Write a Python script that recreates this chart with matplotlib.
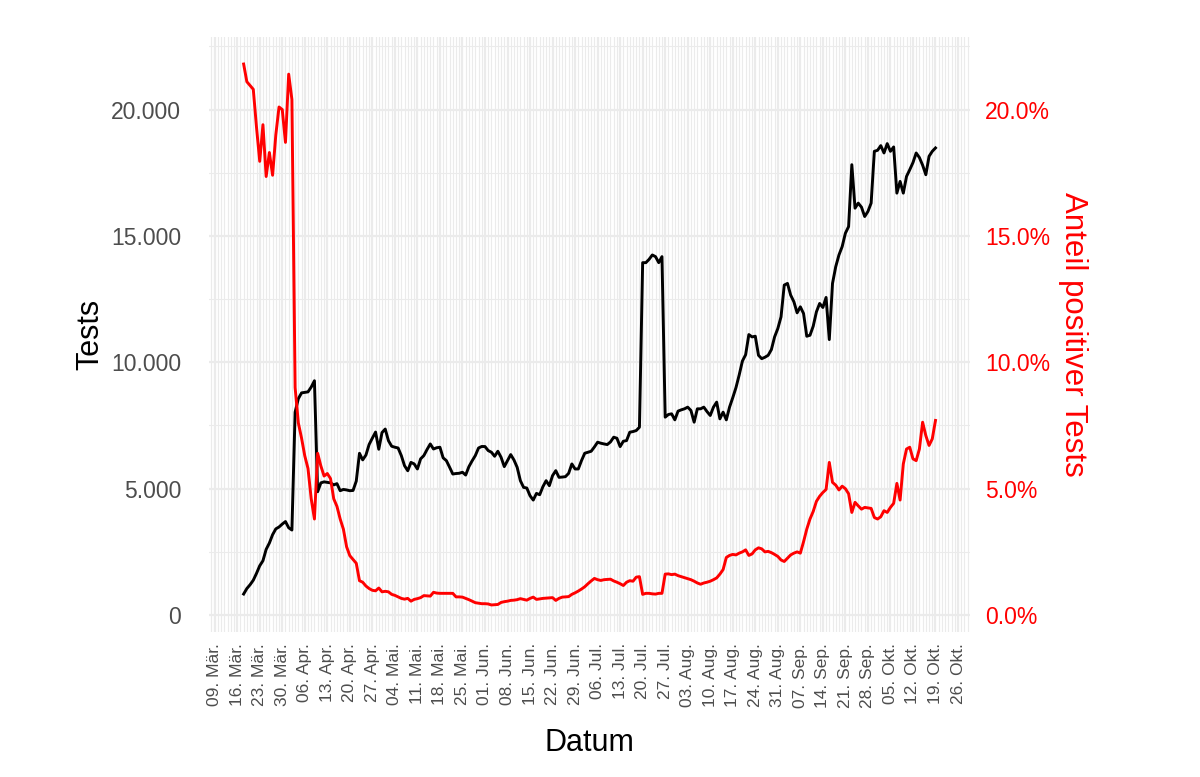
import numpy as np
import pandas as pd
import matplotlib
matplotlib.use("Agg")
import matplotlib.pyplot as plt
import matplotlib.dates as mdates
from matplotlib.ticker import FixedLocator, MultipleLocator, FuncFormatter

# Tägliche Werte ab 18.03.2020
start_date = "2020-03-18"

tests = [
    833, 1050, 1200, 1380, 1650, 1950, 2150, 2600, 2850, 3180, 3410, 3485, 3600, 3700, 3455, 3364,
    8030, 8560, 8790, 8810, 8830, 9020, 9270,
    4880, 5230, 5270, 5250, 5230, 5150, 5200, 4920, 4970, 4950, 4920, 4930, 5300,
    6400, 6140, 6330, 6750, 7000, 7240, 6560, 7220, 7360, 6900, 6680, 6640, 6610, 6310,
    5910, 5710, 6040, 5980, 5780, 6180, 6310, 6550, 6770, 6570, 6620, 6640, 6220, 6110, 5850,
    5580, 5600, 5610, 5650, 5540, 5870, 6100, 6310, 6610, 6670,
    6667, 6508, 6442, 6283, 6481, 6243, 5873, 6111, 6349, 6137, 5846, 5317, 5052, 5026, 4722,
    4550, 4814, 4761, 5079, 5317, 5119, 5516, 5714, 5449, 5460, 5476, 5608, 5979, 5780, 5780,
    6111, 6402, 6442, 6481, 6650, 6839, 6799, 6770, 6746, 6850, 7037,
    6996, 6665, 6877, 6903, 7234, 7260, 7300, 7432,
    13942, 13942, 14074, 14246, 14180, 13942, 14180,
    7829, 7935, 7962, 7724, 8068, 8120, 8160, 8226, 8094, 7631, 8160, 8160, 8226, 8050, 7896,
    8226, 8425, 7763, 8028, 7724, 8226, 8600, 9000, 9500, 10050, 10300,
    11097, 11005, 11031, 10277, 10144, 10200, 10277, 10502, 11005, 11335, 11798, 13055, 13121,
    12658, 12394, 11957, 12195, 11931, 11031, 11071, 11428, 11997, 12328, 12169, 12566, 10899,
    13121, 13783, 14246, 14577, 15106, 15370, 17818,
    16098, 16297, 16138, 15767, 15966, 16297, 18347, 18387, 18572, 18281, 18651, 18347, 18519,
    16693, 17156, 16693, 17354, 17619, 17900, 18281, 18100, 17800, 17421, 18149, 18347, 18480,
]

positive_pct = [
    21.8, 21.1, 20.95, 20.8, 19.3, 17.95, 19.4, 17.35, 18.3, 17.4, 19.0, 20.1, 20.0, 18.7, 21.4, 20.4,
    9.0, 7.6, 7.0, 6.3, 5.8, 4.6, 3.8, 6.4, 5.9, 5.5, 5.6, 5.4, 4.6, 4.3, 3.8, 3.4, 2.7, 2.35,
    2.2, 2.05, 1.36,
    1.30, 1.15, 1.05, 0.98, 0.96, 1.07, 0.92, 0.94, 0.92, 0.82, 0.78, 0.72, 0.66, 0.63, 0.66,
    0.55, 0.62, 0.65, 0.69, 0.77, 0.76, 0.75, 0.90, 0.87, 0.86, 0.86, 0.86, 0.86, 0.86, 0.72,
    0.72, 0.71, 0.66, 0.61, 0.55, 0.49, 0.47, 0.45, 0.45, 0.44,
    0.40, 0.41, 0.42, 0.50, 0.53, 0.55, 0.58, 0.59, 0.61, 0.65, 0.62, 0.59, 0.66, 0.71, 0.62,
    0.64, 0.66, 0.67, 0.68, 0.69, 0.58, 0.66, 0.71, 0.72, 0.73, 0.82, 0.88, 0.95, 1.03, 1.12,
    1.24, 1.35, 1.45, 1.40, 1.37, 1.40, 1.41, 1.42, 1.35,
    1.30, 1.24, 1.17, 1.30, 1.36, 1.34, 1.50, 1.52, 0.82, 0.86, 0.86, 0.84, 0.83, 0.86, 0.86,
    1.62, 1.63, 1.60, 1.62, 1.56, 1.52, 1.48, 1.44, 1.40, 1.34, 1.27, 1.22, 1.27, 1.30, 1.34,
    1.40, 1.47, 1.62, 1.80, 2.28, 2.36, 2.40, 2.38, 2.45, 2.50, 2.58, 2.36, 2.42, 2.58, 2.66,
    2.62, 2.50, 2.52, 2.47, 2.40, 2.32, 2.18, 2.12, 2.25, 2.38, 2.45, 2.50, 2.45,
    2.9, 3.4, 3.8, 4.1, 4.5, 4.7, 4.85, 4.97, 6.04, 5.25, 5.14, 4.95, 5.10, 5.0, 4.80, 4.06,
    4.46, 4.32, 4.19, 4.26, 4.24, 4.22,
    3.86, 3.80, 3.89, 4.13, 4.06, 4.26, 4.42, 5.21, 4.55, 5.98, 6.57, 6.64, 6.18, 6.11, 6.57,
    7.63, 7.10, 6.71, 6.97, 7.70,
]

month_abbr = ["Jan.", "Feb.", "Mär.", "Apr.", "Mai.", "Jun.", "Jul.", "Aug.", "Sep.", "Okt.", "Nov.", "Dez."]
tests_ticks = [0, 5000, 10000, 15000, 20000]
pct_ticks = [0, 5, 10, 15, 20]

dates = pd.date_range(start_date, periods=len(tests), freq="D")
tests = np.array(tests, dtype=float)
positive_pct = np.array(positive_pct, dtype=float)

plt.rcParams["font.family"] = ["Liberation Sans", "DejaVu Sans"]
grid_col = "#EBEBEB"
text_col = "#4D4D4D"

fig = plt.figure(figsize=(12, 7.77), dpi=100)
ax = fig.add_axes([0.1742, 0.1866, 0.6342, 0.7658])

# ggplot-artige Erweiterung um 5 %
x0, x1 = mdates.date2num(dates[0]), mdates.date2num(dates[-1])
xpad = 0.05 * (x1 - x0)
ax.set_xlim(x0 - xpad, x1 + xpad)
allv = np.concatenate([tests, positive_pct * 1000])
lo, hi = allv.min(), allv.max()
ypad = 0.05 * (hi - lo)
ax.set_ylim(lo - ypad, hi + ypad)

ax.plot(dates, tests, color="black", lw=2.1, solid_joinstyle="round")

ax2 = ax.twinx()
ax2.set_ylim((lo - ypad) / 1000, (hi + ypad) / 1000)
ax2.plot(dates, positive_pct, color="#FF0000", lw=2.1, solid_joinstyle="round")

ax.xaxis.set_major_locator(mdates.WeekdayLocator(byweekday=mdates.MO))
ax.xaxis.set_minor_locator(mdates.DayLocator())
ax.xaxis.set_major_formatter(FuncFormatter(
    lambda v, p: f"{mdates.num2date(v).day:02d}. {month_abbr[mdates.num2date(v).month - 1]}"))
ax.yaxis.set_major_locator(FixedLocator(tests_ticks))
ax.yaxis.set_minor_locator(MultipleLocator(2500))
ax.yaxis.set_major_formatter(FuncFormatter(lambda v, p: f"{int(v):,}".replace(",", ".")))
ax2.yaxis.set_major_locator(FixedLocator(pct_ticks))
ax2.yaxis.set_major_formatter(FuncFormatter(lambda v, p: f"{v:.1f}%"))

ax.set_axisbelow(True)
ax.grid(which="major", color=grid_col, lw=1.6)
ax.grid(which="minor", color=grid_col, lw=0.8)

for a in (ax, ax2):
    for s in a.spines.values():
        s.set_visible(False)

ax.tick_params(axis="y", which="both", length=0, pad=20, labelsize=16.5, labelcolor=text_col)
ax.tick_params(axis="x", which="both", length=0, pad=8, labelsize=12.5, labelcolor=text_col,
               labelrotation=90)
ax2.tick_params(axis="y", which="both", length=0, pad=11, labelsize=16.5, labelcolor="#FF0000")

ax.set_xlabel("Datum", fontsize=22)
ax.xaxis.set_label_coords(0.5, -0.161)
ax.set_ylabel("Tests", fontsize=22, va="center")
ax.yaxis.set_label_coords(-0.156, 0.5)
ax2.set_ylabel("Anteil positiver Tests", fontsize=22.5, color="#FF0000", rotation=-90, va="center")
ax2.yaxis.set_label_coords(1.135, 0.5)

fig.savefig("out.png", dpi=100)
